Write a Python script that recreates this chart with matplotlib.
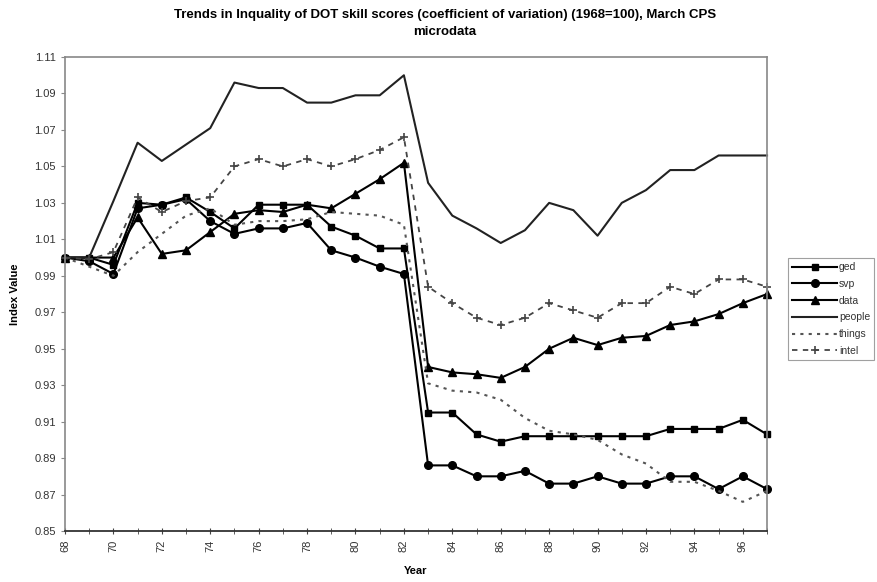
import numpy as np
import matplotlib
matplotlib.use("Agg")
import matplotlib.pyplot as plt

plt.rcParams['font.family'] = ['Liberation Sans', 'DejaVu Sans']

years = list(range(68, 98))
ged = [1.000, 1.000, 0.996, 1.030, 1.029, 1.033, 1.025, 1.016, 1.029, 1.029,
       1.029, 1.017, 1.012, 1.005, 1.005, 0.915, 0.915, 0.903, 0.899, 0.902,
       0.902, 0.902, 0.902, 0.902, 0.902, 0.906, 0.906, 0.906, 0.911, 0.903]
svp = [1.000, 0.998, 0.991, 1.027, 1.029, 1.032, 1.020, 1.013, 1.016, 1.016,
       1.019, 1.004, 1.000, 0.995, 0.991, 0.886, 0.886, 0.880, 0.880, 0.883,
       0.876, 0.876, 0.880, 0.876, 0.876, 0.880, 0.880, 0.873, 0.880, 0.873]
data = [1.000, 1.000, 1.000, 1.022, 1.002, 1.004, 1.014, 1.024, 1.026, 1.025,
        1.029, 1.027, 1.035, 1.043, 1.052, 0.940, 0.937, 0.936, 0.934, 0.940,
        0.950, 0.956, 0.952, 0.956, 0.957, 0.963, 0.965, 0.969, 0.975, 0.980]
people = [1.000, 1.000, 1.031, 1.063, 1.053, 1.062, 1.071, 1.096, 1.093, 1.093,
          1.085, 1.085, 1.089, 1.089, 1.100, 1.041, 1.023, 1.016, 1.008, 1.015,
          1.030, 1.026, 1.012, 1.030, 1.037, 1.048, 1.048, 1.056, 1.056, 1.056]
things = [1.000, 0.995, 0.990, 1.003, 1.013, 1.023, 1.027, 1.018, 1.020, 1.020,
          1.021, 1.025, 1.024, 1.023, 1.018, 0.931, 0.927, 0.926, 0.922, 0.912,
          0.905, 0.903, 0.900, 0.892, 0.887, 0.877, 0.877, 0.872, 0.866, 0.872]
intel = [1.000, 0.999, 1.003, 1.033, 1.025, 1.031, 1.033, 1.050, 1.054, 1.050,
         1.054, 1.050, 1.054, 1.059, 1.066, 0.984, 0.975, 0.967, 0.963, 0.967,
         0.975, 0.971, 0.967, 0.975, 0.975, 0.984, 0.980, 0.988, 0.988, 0.984]

yticks = [0.85, 0.87, 0.89, 0.91, 0.93, 0.95, 0.97, 0.99, 1.01, 1.03, 1.05,
          1.07, 1.09, 1.11]
xlabels = list(range(68, 98, 2))

fig = plt.figure(figsize=(8.77, 5.82), dpi=100)
ax = fig.add_axes([0.0741, 0.0876, 0.8005, 0.8144])

ax.plot(years, ged, color='black', lw=1.5, marker='s', ms=4.5, label='ged',
        clip_on=False)
ax.plot(years, svp, color='black', lw=1.5, marker='o', ms=5.5, label='svp',
        clip_on=False)
ax.plot(years, data, color='black', lw=1.5, marker='^', ms=5.5, label='data',
        clip_on=False)
ax.plot(years, people, color='#222222', lw=1.5, label='people', clip_on=False)
ax.plot(years, things, color='#555555', lw=1.5, ls=(0, (1.5, 2.5)),
        label='things', clip_on=False)
ax.plot(years, intel, color='#444444', lw=1.3, ls=(0, (3, 3)), marker='+',
        ms=6, mew=1.2, label='intel', clip_on=False)

ax.set_xlim(68, 97)
ax.set_ylim(0.85, 1.11)
ax.set_yticks(yticks)
ax.set_yticklabels(['%.2f' % v for v in yticks], fontsize=8, color='#333333')
ax.set_xticks(years, minor=True)
ax.set_xticks(xlabels)
ax.set_xticklabels([str(v) for v in xlabels], rotation=90, fontsize=8,
                   color='#333333')
ax.tick_params(axis='y', direction='out', length=3, color='#888888')
ax.tick_params(axis='x', which='both', direction='inout', length=5,
               color='#444444')

for s in ['top', 'right', 'left']:
    ax.spines[s].set_color('#888888')
    ax.spines[s].set_linewidth(1.2)
ax.spines['bottom'].set_color('#333333')
ax.spines['bottom'].set_linewidth(1.3)

ax.set_ylabel('Index Value', fontsize=8, fontweight='bold', labelpad=10)
ax.set_xlabel('Year', fontsize=8, fontweight='bold', labelpad=10)

fig.suptitle('Trends in Inquality of DOT skill scores (coefficient of variation) '
             '(1968=100), March CPS\nmicrodata',
             x=0.507, y=0.985, fontsize=9.5, fontweight='bold',
             linespacing=1.6)

leg = ax.legend(loc='upper left', bbox_to_anchor=(788 / 877, 1 - 258 / 582),
                bbox_transform=fig.transFigure, fontsize=7.5, frameon=True,
                fancybox=False, handlelength=4.3, handletextpad=0.2,
                labelspacing=0.65, borderpad=0.4, borderaxespad=0)
leg.get_frame().set_edgecolor('#888888')
leg.get_frame().set_linewidth(0.8)
for t in leg.get_texts():
    t.set_color('#333333')

fig.savefig('out.png', dpi=100)
